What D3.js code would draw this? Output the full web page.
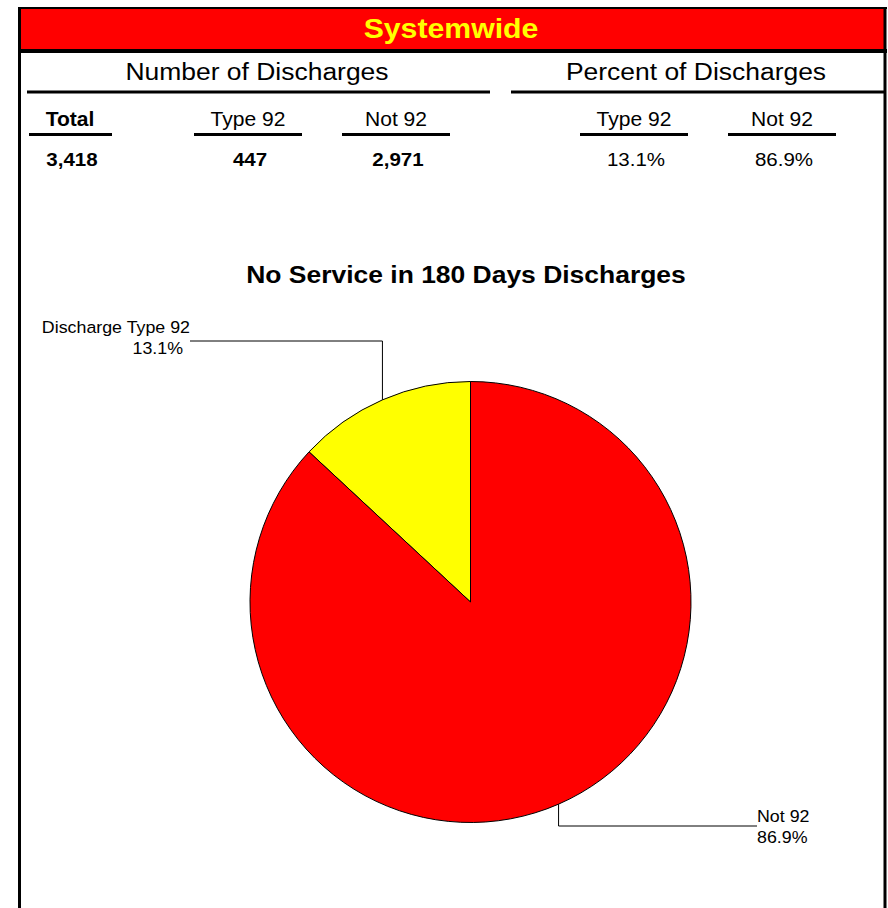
<!DOCTYPE html>
<html>
<head>
<meta charset="utf-8">
<script src="https://cdn.jsdelivr.net/npm/d3@7"></script>
<style>
  body { margin: 0; background: #fff; }
  text { font-family: "Liberation Sans", Arial, sans-serif; }
</style>
</head>
<body>
<script>
// Data
const categories = ["Type 92", "Not 92"];
const counts = [447, 2971];
const totalCount = 3418;
const percents = [13.1, 86.9];
const pieLabels = ["Discharge Type 92", "Not 92"];
const bannerTitle = "Systemwide";
const chartTitle = "No Service in 180 Days Discharges";

// Canvas setup
const canvasWidth = 888;
const canvasHeight = 908;

const svg = d3.select('body')
    .append('svg')
    .attr('width', canvasWidth)
    .attr('height', canvasHeight);

const fmt = d3.format(",");
const pct = d => d.toFixed(1) + "%";
const stretch = 1.08;

// text helper, slightly wide like the original
function label(x, y, str, size, opts = {}) {
    return svg.append('text')
        .attr('transform', `translate(${x},${y}) scale(${stretch},1)`)
        .attr('text-anchor', opts.anchor || 'middle')
        .attr('font-size', size)
        .attr('font-weight', opts.bold ? 'bold' : 'normal')
        .attr('fill', opts.fill || '#000')
        .text(str);
}

function hline(x1, x2, y, w) {
    svg.append('line')
        .attr('x1', x1).attr('x2', x2)
        .attr('y1', y).attr('y2', y)
        .attr('stroke', '#000')
        .attr('stroke-width', w);
}

// frame and banner
svg.append('rect')
    .attr('x', 19).attr('y', 9)
    .attr('width', 866).attr('height', 40)
    .attr('fill', '#ff0000');
hline(18, 887, 8, 2);
hline(18, 887, 51, 4);
svg.append('line').attr('x1', 19.5).attr('x2', 19.5).attr('y1', 7).attr('y2', canvasHeight)
    .attr('stroke', '#000').attr('stroke-width', 3);
svg.append('line').attr('x1', 885).attr('x2', 885).attr('y1', 7).attr('y2', canvasHeight)
    .attr('stroke', '#000').attr('stroke-width', 3);

label(451, 38, bannerTitle, 28, {bold: true, fill: '#ffff00'});

// section headers
label(257, 80, "Number of Discharges", 24.5);
label(696, 80, "Percent of Discharges", 24.5);
hline(27, 490, 92, 3);
hline(511, 885, 92, 3);

// column headers + values
const columns = [
    {head: "Total", cx: 70, x1: 29, x2: 112, value: fmt(totalCount), bold: true, headBold: true},
    {head: categories[0], cx: 248, x1: 194, x2: 302, value: fmt(counts[0]), bold: true},
    {head: categories[1], cx: 396, x1: 342, x2: 450, value: fmt(counts[1]), bold: true},
    {head: categories[0], cx: 634, x1: 580, x2: 688, value: pct(percents[0])},
    {head: categories[1], cx: 782, x1: 728, x2: 836, value: pct(percents[1])}
];
columns.forEach(c => {
    label(c.cx, 126, c.head, 19.5, {bold: c.headBold});
    hline(c.x1, c.x2, 134.5, 3);
    label(c.cx + 2, 166, c.value, 19, {bold: c.bold});
});

// chart title
label(466, 283, chartTitle, 24.5, {bold: true});

// pie
const cx = 470.5, cy = 602, radius = 220.5;
const pieGroup = svg.append('g').attr('transform', `translate(${cx},${cy})`);

const typeShare = counts[0] / d3.sum(counts);
const pie = d3.pie()
    .sort(null)
    .startAngle(-typeShare * 2 * Math.PI)
    .endAngle((1 - typeShare) * 2 * Math.PI);
const arcs = pie(counts);
const arcFn = d3.arc().innerRadius(0).outerRadius(radius);
const colors = ["#ffff00", "#ff0000"];

pieGroup.selectAll('path')
    .data(arcs)
    .enter().append('path')
    .attr('d', arcFn)
    .attr('fill', (d, i) => colors[i])
    .attr('stroke', '#000')
    .attr('stroke-width', 1);

// leader lines from slice mid edge
const edge = d => {
    const a = (d.startAngle + d.endAngle) / 2;
    return [cx + Math.sin(a) * radius, cy - Math.cos(a) * radius];
};
const e0 = edge(arcs[0]);
const e1 = edge(arcs[1]);
const lineFn = d3.line();
svg.append('path')
    .attr('d', lineFn([e0, [e0[0], 341], [190, 341]]))
    .attr('fill', 'none').attr('stroke', '#000').attr('stroke-width', 1);
svg.append('path')
    .attr('d', lineFn([e1, [e1[0], 826], [757, 826]]))
    .attr('fill', 'none').attr('stroke', '#000').attr('stroke-width', 1);

label(190, 333, pieLabels[0], 16.5, {anchor: 'end'});
label(183, 354, pct(percents[0]), 16.5, {anchor: 'end'});
label(757, 822, pieLabels[1], 16.5, {anchor: 'start'});
label(757, 843, pct(percents[1]), 16.5, {anchor: 'start'});
</script>
</body>
</html>
